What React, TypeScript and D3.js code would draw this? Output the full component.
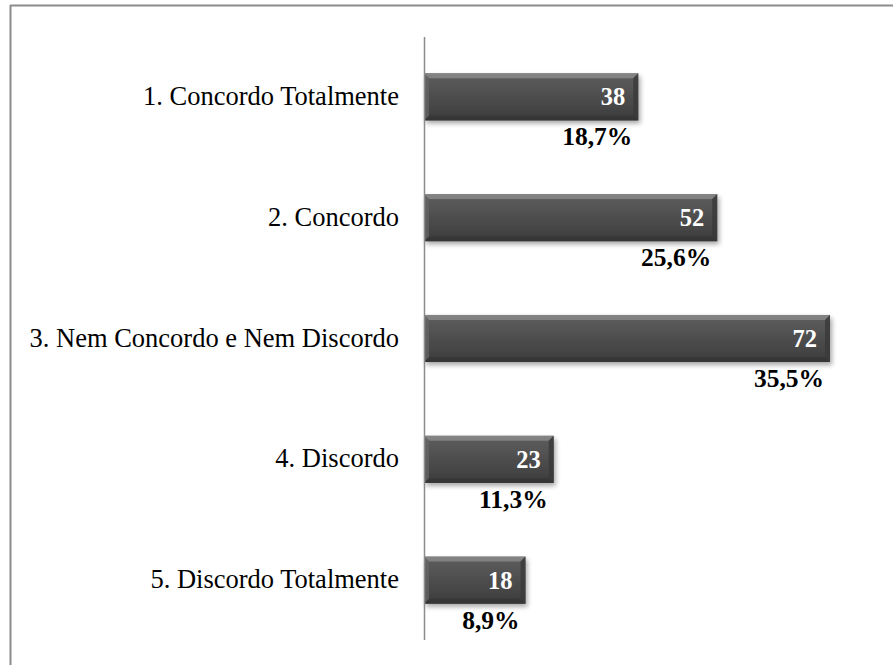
import React from "react";
import * as d3 from "d3";

const categories = [
  "1. Concordo Totalmente",
  "2. Concordo",
  "3. Nem Concordo e Nem Discordo",
  "4. Discordo",
  "5. Discordo Totalmente",
];
const counts = [38, 52, 72, 23, 18];
const percents = ["18,7%", "25,6%", "35,5%", "11,3%", "8,9%"];

const W = 893;
const H = 665;
const FONT = "'Liberation Serif', 'Times New Roman', Times, serif";

export default function App() {
  const x0 = 424;
  const x = d3.scaleLinear().domain([0, 72]).range([x0, 830]);
  const y = d3.scaleBand<string>().domain(categories).range([37, 640]).paddingInner(0.61).paddingOuter(0.3);
  const bh = y.bandwidth();

  return (
    <svg width={W} height={H} style={{ position: "absolute", left: 0, top: 0 }}>
      <defs>
        <linearGradient id="barG" x1="0" y1="0" x2="0" y2="1">
          <stop offset="0" stopColor="#6e6e6e" />
          <stop offset="0.12" stopColor="#5a5a5a" />
          <stop offset="0.6" stopColor="#4a4a4a" />
          <stop offset="1" stopColor="#3c3c3c" />
        </linearGradient>
        <filter id="shadow" x="-5%" y="-20%" width="115%" height="160%">
          <feGaussianBlur in="SourceAlpha" stdDeviation="2.5" />
          <feOffset dx="2" dy="3" result="b" />
          <feComponentTransfer>
            <feFuncA type="linear" slope="0.35" />
          </feComponentTransfer>
          <feMerge>
            <feMergeNode />
            <feMergeNode in="SourceGraphic" />
          </feMerge>
        </filter>
      </defs>
      <rect x={0} y={0} width={W} height={H} fill="#fff" />
      <line x1={10.5} y1={5} x2={10.5} y2={H} stroke="#8c8c8c" strokeWidth={2} />
      <line x1={10} y1={5.5} x2={W} y2={5.5} stroke="#8c8c8c" strokeWidth={2} />

      {categories.map((c, i) => {
        const yy = y(c)!;
        const xe = x(counts[i]);
        const bw = xe - x0;
        const bev = 5;
        return (
          <g key={c}>
            <g filter="url(#shadow)">
              <rect x={x0} y={yy} width={bw} height={bh} fill="url(#barG)" />
            </g>
            <polygon
              points={`${x0},${yy} ${xe},${yy} ${xe - bev},${yy + bev} ${x0 + bev},${yy + bev}`}
              fill="#8a8a8a"
              opacity={0.8}
            />
            <polygon
              points={`${xe},${yy} ${xe},${yy + bh} ${xe - bev},${yy + bh - bev} ${xe - bev},${yy + bev}`}
              fill="#3a3a3a"
              opacity={0.8}
            />
            <polygon
              points={`${x0},${yy + bh} ${xe},${yy + bh} ${xe - bev},${yy + bh - bev} ${x0 + bev},${yy + bh - bev}`}
              fill="#333"
              opacity={0.7}
            />
            <polygon
              points={`${x0},${yy} ${x0 + bev},${yy + bev} ${x0 + bev},${yy + bh - bev} ${x0},${yy + bh}`}
              fill="#666"
              opacity={0.7}
            />
            <text
              x={xe - 13}
              y={yy + bh / 2 + 8.5}
              textAnchor="end"
              fill="#fff"
              fontFamily={FONT}
              fontWeight="bold"
              fontSize={24.5}
            >
              {counts[i]}
            </text>
            <text
              x={xe - 6}
              y={yy + bh + 25}
              textAnchor="end"
              fill="#000"
              fontFamily={FONT}
              fontWeight="bold"
              fontSize={25.5}
            >
              {percents[i]}
            </text>
            <text
              x={399}
              y={yy + bh / 2 + 8}
              textAnchor="end"
              fill="#000"
              fontFamily={FONT}
              fontSize={26.5}
            >
              {c}
            </text>
          </g>
        );
      })}
      <line x1={x0 + 0.5} y1={37} x2={x0 + 0.5} y2={640} stroke="#8c8c8c" strokeWidth={1.5} />
    </svg>
  );
}
